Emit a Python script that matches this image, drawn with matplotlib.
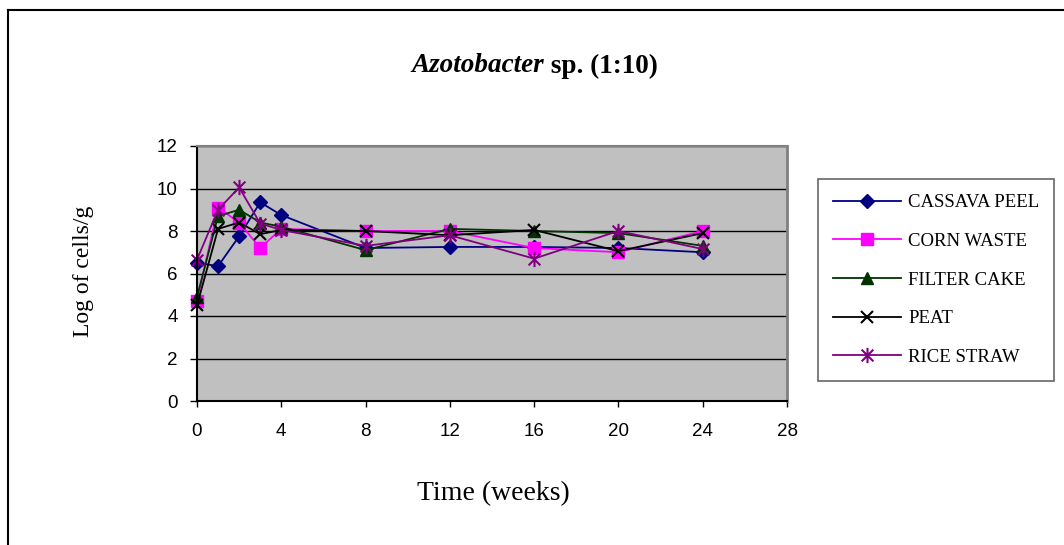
import numpy as np
import matplotlib
matplotlib.use("Agg")
import matplotlib.pyplot as plt
from matplotlib.path import Path
from matplotlib.lines import Line2D


# ============================================================
# Data: log of cells/g over time, one series per carrier
# ============================================================

weeks = [0, 1, 2, 3, 4, 8, 12, 16, 20, 24]

cassava_peel = [6.5, 6.35, 7.75, 9.35, 8.75, 7.2, 7.25, 7.25, 7.2, 7.0]
corn_waste = [4.7, 9.1, 8.4, 7.2, 8.1, 8.0, 8.0, 7.2, 7.0, 8.0]
filter_cake = [4.9, 8.7, 9.0, 8.4, 8.2, 7.1, 8.1, 8.0, 7.9, 7.3]
peat = [4.5, 8.1, 8.4, 7.85, 8.05, 8.0, 7.8, 8.05, 7.05, 7.9]
rice_straw = [6.65, 9.0, 10.05, 8.35, 8.05, 7.3, 7.8, 6.7, 8.0, 7.15]

series_names = ["CASSAVA PEEL", "CORN WASTE", "FILTER CAKE", "PEAT", "RICE STRAW"]

x_ticks = [0, 4, 8, 12, 16, 20, 24, 28]
y_ticks = [0, 2, 4, 6, 8, 10, 12]

# Excel-style asterisk: an "x" with a vertical stroke through it
ASTERISK = Path(
    [(-1, -1), (1, 1), (-1, 1), (1, -1), (0, -1.3), (0, 1.3)],
    [Path.MOVETO, Path.LINETO, Path.MOVETO, Path.LINETO, Path.MOVETO, Path.LINETO],
)

styles = [
    dict(color="#000080", marker="D", ms=7, mfc="#000080", mec="#000080"),
    dict(color="#FF00FF", marker="s", ms=8, mfc="#FF00FF", mec="#FF00FF"),
    dict(color="#003300", marker="^", ms=9, mfc="#003300", mec="#003300"),
    dict(color="#000000", marker="x", ms=9, mec="#000000", mew=1.5),
    dict(color="#800080", marker=ASTERISK, ms=11, mec="#800080", mew=1.5),
]

W, H, DPI = 1064, 545, 100

SERIF = ["Liberation Serif", "DejaVu Serif"]
SANS = ["Liberation Sans", "DejaVu Sans"]

fig = plt.figure(figsize=(W / DPI, H / DPI), dpi=DPI)
fig.patch.set_facecolor("white")

# plot area in pixel units -> figure fractions
left, right = 197 / W, 787 / W
bottom, top = 1 - 401 / H, 1 - 146 / H
ax = fig.add_axes([left, bottom, right - left, top - bottom])
ax.set_facecolor("#C0C0C0")

for vals, name, st in zip(
    [cassava_peel, corn_waste, filter_cake, peat, rice_straw], series_names, styles
):
    ax.plot(weeks, vals, lw=1.3, label=name, clip_on=False, **st)

ax.set_xlim(0, 28)
ax.set_ylim(0, 12)
ax.set_xticks(x_ticks)
ax.set_yticks(y_ticks)
ax.yaxis.grid(True, color="black", lw=1.0)
ax.set_axisbelow(True)

for lbl in ax.get_xticklabels() + ax.get_yticklabels():
    lbl.set_family(SANS)
    lbl.set_fontsize(13.5)
ax.tick_params(axis="y", direction="out", length=5, width=1, pad=9)
ax.tick_params(axis="x", direction="out", length=4.5, width=1, pad=11)

ax.spines["left"].set_color("black")
ax.spines["bottom"].set_color("black")
ax.spines["left"].set_linewidth(1.5)
ax.spines["bottom"].set_linewidth(1.5)
ax.spines["top"].set_color("#808080")
ax.spines["right"].set_color("#808080")
ax.spines["top"].set_linewidth(1.5)
ax.spines["right"].set_linewidth(2)

# axis titles
fig.text(493 / W, 1 - 494 / H, "Time (weeks)", family=SERIF, fontsize=20,
         ha="center", va="center")
fig.text(83 / W, 1 - 271 / H, "Log of cells/g", family=SERIF, fontsize=17,
         rotation=90, ha="center", va="center")

# title: italic genus name followed by upright text, centred as one line
ty = 1 - 66 / H
t1 = fig.text(0, ty, "Azotobacter", family=SERIF, fontsize=19.5,
              style="italic", weight="bold", ha="left", va="center")
t2 = fig.text(0, ty, " sp. (1:10)", family=SERIF, fontsize=19.5,
              weight="bold", ha="left", va="center")
fig.canvas.draw()
r = fig.canvas.get_renderer()
w1 = t1.get_window_extent(r).width
w2 = t2.get_window_extent(r).width
x_start = 535 - (w1 + w2) / 2
t1.set_x(x_start / W)
t2.set_x((x_start + w1) / W)

# legend box on the right
leg = ax.legend(
    loc="upper left",
    bbox_to_anchor=(818 / W, 1 - 179 / H),
    bbox_transform=fig.transFigure,
    prop={"family": SERIF, "size": 13.5},
    frameon=True,
    fancybox=False,
    edgecolor="#404040",
    handlelength=3.6,
    handletextpad=0.4,
    labelspacing=1.15,
    borderpad=0.8,
    borderaxespad=0,
)
leg.get_frame().set_linewidth(1.2)

# chart border (left and top edges)
fig.add_artist(Line2D([8 / W, 8 / W], [0, 1 - 10 / H], color="black", lw=1.5,
                      transform=fig.transFigure))
fig.add_artist(Line2D([8 / W, 1], [1 - 10 / H, 1 - 10 / H], color="black", lw=1.5,
                      transform=fig.transFigure))

fig.savefig("out.png", dpi=DPI)
